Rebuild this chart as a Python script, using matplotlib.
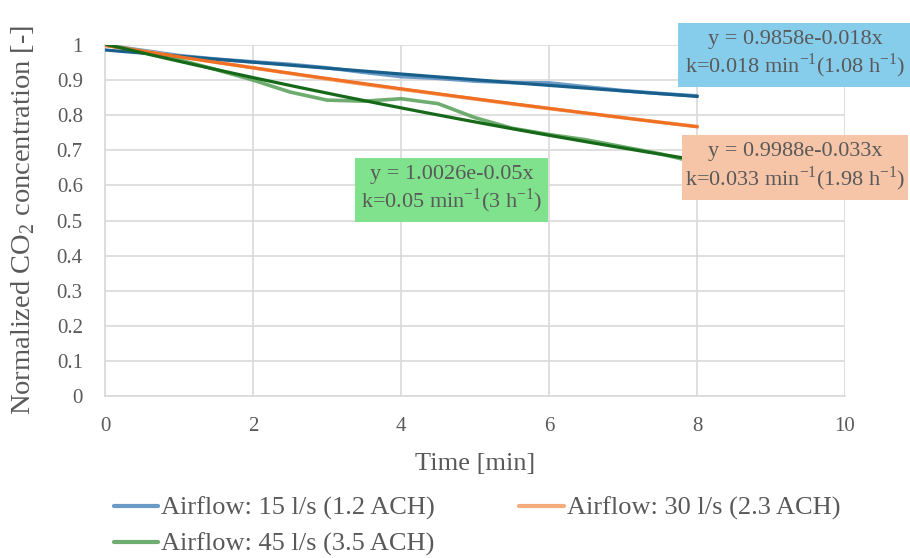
import numpy as np
import matplotlib
matplotlib.use("Agg")
import matplotlib.pyplot as plt
from matplotlib.patches import Rectangle

plt.rcParams['font.family'] = ['Liberation Serif', 'DejaVu Serif']
plt.rcParams['mathtext.fontset'] = 'custom'
plt.rcParams['mathtext.rm'] = 'Liberation Serif'

# ---- data ----
time_min = [0, 0.5, 1, 1.5, 2, 2.5, 3, 3.5, 4, 4.5, 5, 5.5, 6, 6.5, 7, 7.5, 8]
flow15 = [1.0, 0.985, 0.970, 0.960, 0.952, 0.945, 0.935, 0.922, 0.910, 0.905,
          0.897, 0.893, 0.892, 0.881, 0.870, 0.862, 0.855]
flow30 = [1.0, 0.983, 0.967, 0.951, 0.935, 0.919, 0.903, 0.888, 0.874, 0.860,
          0.846, 0.832, 0.819, 0.806, 0.793, 0.780, 0.768]
flow45 = [1.0, 0.982, 0.958, 0.930, 0.900, 0.866, 0.843, 0.840, 0.847, 0.833,
          0.793, 0.763, 0.745, 0.730, 0.710, 0.690, 0.665]

series_labels = ["Airflow: 15 l/s (1.2 ACH)", "Airflow: 30 l/s (2.3 ACH)",
                 "Airflow: 45 l/s (3.5 ACH)"]
# exponential trendlines  y = a * exp(-k x)
trend_a = [0.9858, 0.9988, 1.0026]
trend_k = [0.018, 0.033, 0.05]
trend_text = [
    "y = 0.9858e-0.018x\nk=0.018 min$^{\\mathregular{-1}}$(1.08 h$^{\\mathregular{-1}}$)",
    "y = 0.9988e-0.033x\nk=0.033 min$^{\\mathregular{-1}}$(1.98 h$^{\\mathregular{-1}}$)",
    "y = 1.0026e-0.05x\nk=0.05 min$^{\\mathregular{-1}}$(3 h$^{\\mathregular{-1}}$)",
]
x_ticks = [0, 2, 4, 6, 8, 10]
y_ticks = [0, 0.1, 0.2, 0.3, 0.4, 0.5, 0.6, 0.7, 0.8, 0.9, 1]

# ---- styles ----
data_colors = ["#5A8FBF", "#F4A36E", "#5FA35F"]
trend_colors = ["#185F8C", "#F07023", "#17691A"]
box_colors = ["#86CDEC", "#F6C4A7", "#80E28C"]
txt_color = "#595959"
grid_color = "#D9D9D9"

W, H = 910, 558
fig = plt.figure(figsize=(W / 100, H / 100), dpi=100)
ax = fig.add_axes([105 / W, 1 - 396 / H, 740 / W, 351 / H])

x = np.array(time_min)
handles = []
for ys, c, lab in zip([flow15, flow30, flow45], data_colors, series_labels):
    h, = ax.plot(x, ys, color=c, lw=2.6, alpha=0.9, label=lab,
                 solid_capstyle='round', zorder=3)
    handles.append(h)

xt = np.linspace(0, 8, 200)
for a, k, c in zip(trend_a, trend_k, trend_colors):
    ax.plot(xt, a * np.exp(-k * xt), color=c, lw=2.3, zorder=4)

ax.set_xlim(0, 10)
ax.set_ylim(0, 1)
ax.set_xticks(x_ticks)
ax.set_yticks(y_ticks)
ax.set_xticklabels([str(v) for v in x_ticks])
ax.set_yticklabels([f"{v:g}" for v in y_ticks])
ax.grid(True, color=grid_color, lw=1.2, zorder=0)
for s in ["top", "right"]:
    ax.spines[s].set_visible(False)
for s in ["left", "bottom"]:
    ax.spines[s].set_color(grid_color)
    ax.spines[s].set_linewidth(1.2)
ax.tick_params(axis='both', length=0, labelsize=15, colors=txt_color)
ax.tick_params(axis='y', pad=16)
ax.tick_params(axis='x', pad=15)
ax.set_xlabel("Time [min]", fontsize=19, color=txt_color, labelpad=12)
ax.set_ylabel("Normalized CO$_{\\mathregular{2}}$ concentration [-]", fontsize=20.5,
              color=txt_color, labelpad=14)

order = [0, 2, 1]
leg = fig.legend([handles[i] for i in order], [series_labels[i] for i in order],
                 ncol=2, loc='upper left',
                 bbox_to_anchor=(103 / W, 1 - 486 / H), frameon=False,
                 fontsize=19, handlelength=1.7, handletextpad=0.1,
                 columnspacing=3.2, labelspacing=0.45, borderaxespad=0)
for t in leg.get_texts():
    t.set_color(txt_color)
for l in leg.get_lines():
    l.set_linewidth(3)

# text boxes (pixel coords: left, top, right, bottom)
boxes = [(678, 23, 912, 87), (682, 135, 908, 200), (355, 158, 548, 222)]
for (l, t, r, b), fc, txt in zip(boxes, box_colors, trend_text):
    rect = Rectangle((l / W, 1 - b / H), (r - l) / W, (b - t) / H,
                     transform=fig.transFigure, facecolor=fc, edgecolor='none',
                     zorder=5)
    fig.add_artist(rect)
    fig.text((l + r) / 2 / W, 1 - (t + b) / 2 / H, txt, ha='center', va='center',
             fontsize=16, color=txt_color, linespacing=1.15, zorder=6)

fig.savefig("out.png", dpi=100)
